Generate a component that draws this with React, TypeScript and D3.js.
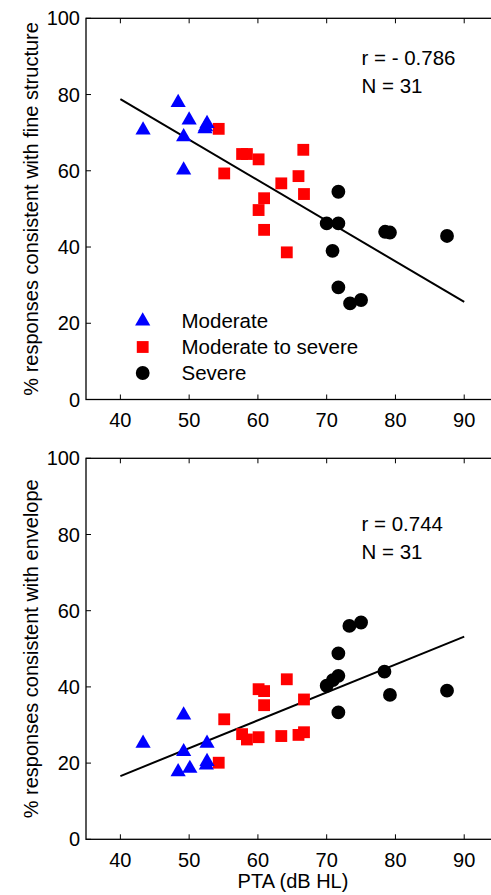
import React from "react";
import * as d3 from "d3";

// ---- Data ----
// Top panel: % responses consistent with fine structure
const topModerateX = [43.3, 48.4, 50.0, 52.6, 52.3, 49.2, 49.2, 52.4];
const topModerateY = [70.7, 77.9, 73.3, 72.4, 71.0, 68.9, 60.2, 71.5];
const topModSevX = [54.3, 57.7, 58.4, 60.1, 55.1, 66.6, 65.9, 63.4, 66.7, 60.9, 60.1, 60.9, 64.2];
const topModSevY = [71.0, 64.4, 64.4, 63.0, 59.3, 65.5, 58.6, 56.7, 53.9, 52.8, 49.7, 44.5, 38.6];
const topSevereX = [71.7, 70.0, 71.7, 78.5, 79.2, 87.5, 70.85, 71.7, 73.4, 75.0];
const topSevereY = [54.5, 46.2, 46.2, 44.0, 43.8, 42.9, 39.0, 29.4, 25.2, 26.1];
const topFitX = [40, 90];
const topFitY = [78.8, 25.6];

// Bottom panel: % responses consistent with envelope
const botModerateX = [43.3, 49.2, 49.2, 52.6, 48.4, 50.1, 52.6, 52.5];
const botModerateY = [25.2, 32.6, 23.0, 25.2, 17.7, 18.6, 20.4, 19.5];
const botModSevX = [55.1, 60.1, 60.9, 60.9, 64.2, 66.7, 57.7, 58.4, 60.1, 63.4, 65.9, 66.7, 54.3];
const botModSevY = [31.5, 39.4, 38.9, 35.2, 42.0, 36.7, 27.6, 26.2, 26.8, 27.1, 27.4, 28.1, 20.1];
const botSevereX = [73.3, 75.0, 71.7, 71.7, 70.9, 70.0, 78.4, 79.2, 87.5, 71.7];
const botSevereY = [56.0, 56.9, 48.8, 42.9, 41.8, 40.3, 44.0, 37.9, 39.0, 33.3];
const botFitX = [40, 90];
const botFitY = [16.6, 53.2];

const xTicks = [40, 50, 60, 70, 80, 90];
const yTicks = [0, 20, 40, 60, 80, 100];
const legendLabels = ["Moderate", "Moderate to severe", "Severe"];

const FONT = "'Liberation Sans', Arial, Helvetica, sans-serif";
const W = 491;
const H = 895;
const left = 86;
const right = 498.6;

const tri = d3.symbol().type(d3.symbolTriangle).size(100)()!;
const sq = d3.symbol().type(d3.symbolSquare).size(140)()!;
const circ = d3.symbol().type(d3.symbolCircle).size(150)()!;

type PanelProps = {
  top: number;
  bottom: number;
  ylabel: string;
  modX: number[];
  modY: number[];
  msX: number[];
  msY: number[];
  sevX: number[];
  sevY: number[];
  fitX: number[];
  fitY: number[];
  rText: string;
  nText: string;
  textY: number;
  legend?: boolean;
};

function Panel(p: PanelProps) {
  const x = d3.scaleLinear().domain([35, 95]).range([left, right]);
  const y = d3.scaleLinear().domain([0, 100]).range([p.bottom, p.top]);
  const line = d3
    .line<number>()
    .x((d) => x(p.fitX[d]))
    .y((d) => y(p.fitY[d]));
  const tickLen = 5;
  return (
    <g>
      {/* regression line */}
      <path d={line(p.fitX.map((_, i) => i))!} stroke="#000" strokeWidth={2} fill="none" />
      {/* points */}
      {p.msX.map((v, i) => (
        <path key={"ms" + i} d={sq} transform={`translate(${x(v)},${y(p.msY[i])})`} fill="#ff0000" />
      ))}
      {p.modX.map((v, i) => (
        <path key={"m" + i} d={tri} transform={`translate(${x(v)},${y(p.modY[i])})`} fill="#0000ff" />
      ))}
      {p.sevX.map((v, i) => (
        <path key={"s" + i} d={circ} transform={`translate(${x(v)},${y(p.sevY[i])})`} fill="#000" />
      ))}
      {/* box */}
      <rect x={left} y={p.top} width={right - left} height={p.bottom - p.top} fill="none" stroke="#000" strokeWidth={1.3} />
      {/* x ticks */}
      {xTicks.map((t) => (
        <g key={"xt" + t}>
          <line x1={x(t)} x2={x(t)} y1={p.bottom} y2={p.bottom - tickLen} stroke="#000" strokeWidth={1} />
          <line x1={x(t)} x2={x(t)} y1={p.top} y2={p.top + tickLen} stroke="#000" strokeWidth={1} />
          <text x={x(t)} y={p.bottom + 27.5} textAnchor="middle" fontSize={20} fontFamily={FONT}>
            {t}
          </text>
        </g>
      ))}
      {/* y ticks */}
      {yTicks.map((t) => (
        <g key={"yt" + t}>
          <line x1={left} x2={left + tickLen} y1={y(t)} y2={y(t)} stroke="#000" strokeWidth={1} />
          <line x1={right} x2={right - tickLen} y1={y(t)} y2={y(t)} stroke="#000" strokeWidth={1} />
          <text x={80} y={y(t) + 7} textAnchor="end" fontSize={20} fontFamily={FONT}>
            {t}
          </text>
        </g>
      ))}
      {/* y label */}
      <text
        transform={`translate(${38},${(p.top + p.bottom) / 2}) rotate(-90)`}
        textAnchor="middle"
        fontSize={20}
        fontFamily={FONT}
      >
        {p.ylabel}
      </text>
      {/* stats */}
      <text x={361.5} y={p.textY} fontSize={20.5} fontFamily={FONT}>
        {p.rText}
      </text>
      <text x={361.5} y={p.textY + 28} fontSize={20.5} fontFamily={FONT}>
        {p.nText}
      </text>
      {p.legend && (
        <g>
          {[tri, sq, circ].map((s, i) => (
            <path
              key={"lg" + i}
              d={s}
              transform={`translate(${142.7},${321 + i * 26})`}
              fill={["#0000ff", "#ff0000", "#000"][i]}
            />
          ))}
          {legendLabels.map((l, i) => (
            <text key={"lt" + i} x={181.5} y={328 + i * 26} fontSize={20.5} fontFamily={FONT}>
              {l}
            </text>
          ))}
        </g>
      )}
    </g>
  );
}

export default function App() {
  return (
    <svg
      width={W}
      height={H}
      style={{ position: "absolute", left: 0, top: 0, background: "#fff" }}
    >
      <rect x={0} y={0} width={W} height={H} fill="#fff" />
      <Panel
        top={18.3}
        bottom={399.5}
        ylabel="% responses consistent with fine structure"
        modX={topModerateX}
        modY={topModerateY}
        msX={topModSevX}
        msY={topModSevY}
        sevX={topSevereX}
        sevY={topSevereY}
        fitX={topFitX}
        fitY={topFitY}
        rText="r = - 0.786"
        nText="N = 31"
        textY={65}
        legend
      />
      <Panel
        top={458.3}
        bottom={839.3}
        ylabel="% responses consistent with envelope"
        modX={botModerateX}
        modY={botModerateY}
        msX={botModSevX}
        msY={botModSevY}
        sevX={botSevereX}
        sevY={botSevereY}
        fitX={botFitX}
        fitY={botFitY}
        rText="r = 0.744"
        nText="N = 31"
        textY={531}
      />
      <text x={293} y={888} textAnchor="middle" fontSize={20} fontFamily={FONT}>
        PTA (dB HL)
      </text>
    </svg>
  );
}
